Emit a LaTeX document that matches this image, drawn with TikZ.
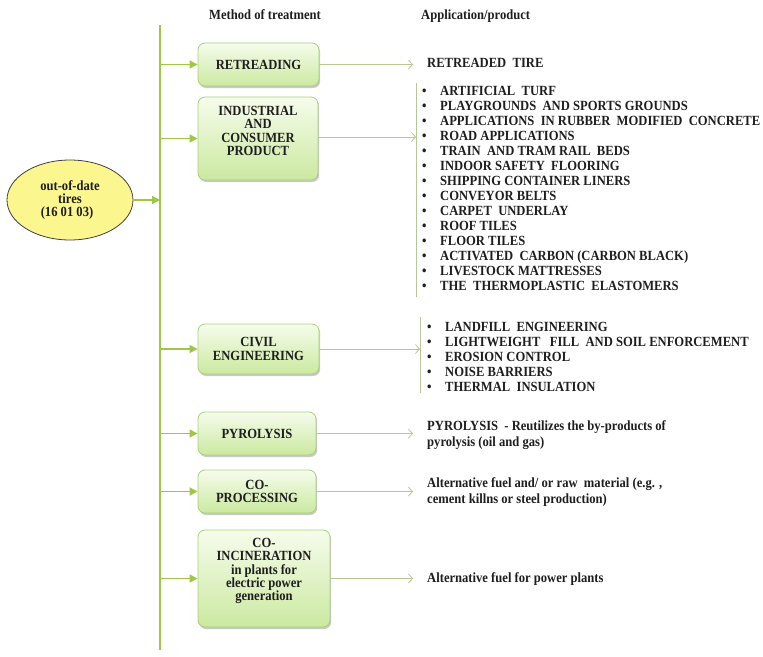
\documentclass[tikz,border=0pt]{standalone}
\usepackage{fontspec}
\setmainfont{Liberation Serif}[FakeStretch=0.9]
\usetikzlibrary{arrows.meta,shadows,shapes.geometric}
\definecolor{spine}{HTML}{9DC847}
\definecolor{boxline}{HTML}{A9CF78}
\definecolor{boxtop}{HTML}{F6FCEC}
\definecolor{boxbot}{HTML}{CBE9A0}
\definecolor{outc}{HTML}{B9C797}
\definecolor{txt}{HTML}{1E1E1E}
\definecolor{ellfill}{HTML}{FBF68E}
\definecolor{elldraw}{HTML}{404040}
\begin{document}
\begin{tikzpicture}[x=1pt,y=-1pt,
  every node/.style={font=\fontsize{14}{13.3}\selectfont\bfseries, text=txt},
  box/.style={draw=boxline, line width=0.8pt, rounded corners=7pt,
    top color=boxtop, bottom color=boxbot, inner sep=0pt, align=center,
    drop shadow={shadow xshift=1.2pt, shadow yshift=-2pt, opacity=0.3, fill=black!70}},
  boxtext/.style={align=center, inner sep=0pt},
  feed/.style={draw=spine, line width=1.2pt, -{Triangle[length=8pt,width=8pt]}},
  outarrow/.style={draw=outc, line width=0.8pt, -{Straight Barb[length=4pt,width=9pt]}},
  bracket/.style={draw=outc, line width=0.9pt},
  item/.style={anchor=west, inner sep=0pt, text height=9pt, text depth=0pt},
  head/.style={anchor=west, inner sep=0pt, text height=9pt, text depth=0pt}
]
\useasboundingbox (0,0) rectangle (763,656);

% headers
\node[head] (h1) at (209,15) {Method of treatment};
\node[head] (h2) at (421,15) {Application/product};

% spine
\coordinate (spt) at (160,25);
\coordinate (spb) at (160,650);
\draw[spine, line width=1.2pt] (spt) -- (spb);

% source ellipse
\node[ellipse, draw=elldraw, line width=0.8pt, fill=ellfill, minimum width=126pt,
  minimum height=80pt, inner sep=0pt, align=center] (src) at (70,200)
  {out-of-date\\tires\\\hspace*{-6pt}(16 01 03)};
\draw[feed] (src.east) -- (src.east -| spt);

% boxes
\node[box, minimum width=121pt, minimum height=43pt] (b1) at (258.5,64.5) {RETREADING};
\node[box, minimum width=120pt, minimum height=83pt] (b2) at (258,138.5) {};
\node[boxtext] (t2) at (258,131) {INDUSTRIAL\\AND\\CONSUMER\\PRODUCT};
\node[box, minimum width=121pt, minimum height=50pt] (b3) at (258.5,349) {CIVIL\\ENGINEERING};
\node[box, minimum width=118pt, minimum height=43pt] (b4) at (257,433.5) {PYROLYSIS};
\node[box, minimum width=118pt, minimum height=43pt] (b5) at (257,491.5) {CO-\\PROCESSING};
\node[box, minimum width=132pt, minimum height=97pt] (b6) at (264,578.5) {};
\node[boxtext] (t6) at (264,571) {CO-\\INCINERATION\\in plants for\\electric power\\generation};

% feeds from spine
\foreach \b in {b1,b2,b3,b4,b5,b6}
  \draw[feed] (\b.west -| spt) -- (\b.west);

% outputs
\coordinate (ox) at (413,0);
\coordinate (br1t) at (416,83);
\coordinate (br1b) at (416,297);
\coordinate (br2t) at (420,317);
\coordinate (br2b) at (420,393);
\draw[bracket] (br1t) -- (br1b);
\draw[bracket] (br2t) -- (br2b);

\draw[outarrow] (b1.east) -- (b1.east -| ox);
\draw[outarrow] ([yshift=1.5pt]b2.east) -- ([yshift=1.5pt]b2.east -| br1t);
\draw[outarrow] (b3.east) -- (b3.east -| br2t);
\draw[outarrow] (b4.east) -- (b4.east -| ox);
\draw[outarrow] (b5.east) -- (b5.east -| ox);
\draw[outarrow] (b6.east) -- (b6.east -| ox);

\node[item] (o1) at (427,63) {RETREADED\ \ TIRE};

\foreach \t [count=\i] in {ARTIFICIAL\ \ TURF, PLAYGROUNDS\ \ AND SPORTS GROUNDS,
  APPLICATIONS\ \ IN RUBBER\ \ MODIFIED\ \ CONCRETE, ROAD APPLICATIONS,
  TRAIN\ \ AND TRAM RAIL\ \ BEDS, INDOOR SAFETY\ \ FLOORING, SHIPPING CONTAINER LINERS,
  CONVEYOR BELTS, CARPET\ \ UNDERLAY, ROOF TILES, FLOOR TILES,
  ACTIVATED\ \ CARBON (CARBON BLACK), LIVESTOCK MATTRESSES,
  THE\ \ THERMOPLASTIC\ \ ELASTOMERS}
  \node[item] (ind\i) at (422,{91+15*(\i-1)}) {\makebox[18pt][l]{•}\t};

\foreach \t [count=\i] in {LANDFILL\ \ ENGINEERING,
  LIGHTWEIGHT\ \ \ FILL\ \ AND SOIL ENFORCEMENT, EROSION CONTROL,
  NOISE BARRIERS, THERMAL\ \ INSULATION}
  \node[item] (civ\i) at (427,{327+15*(\i-1)}) {\makebox[18pt][l]{•}\t};

\node[item] (o4a) at (427,426) {PYROLYSIS\ \ - Reutilizes the by-products of};
\node[item] (o4b) at (427,442) {pyrolysis (oil and gas)};
\node[item] (o5a) at (427,483) {Alternative fuel and/ or raw\ \ material (e.g. ,};
\node[item] (o5b) at (427,499) {cement killns or steel production)};
\node[item] (o6) at (427,578) {Alternative fuel for power plants};
\end{tikzpicture}
\end{document}
